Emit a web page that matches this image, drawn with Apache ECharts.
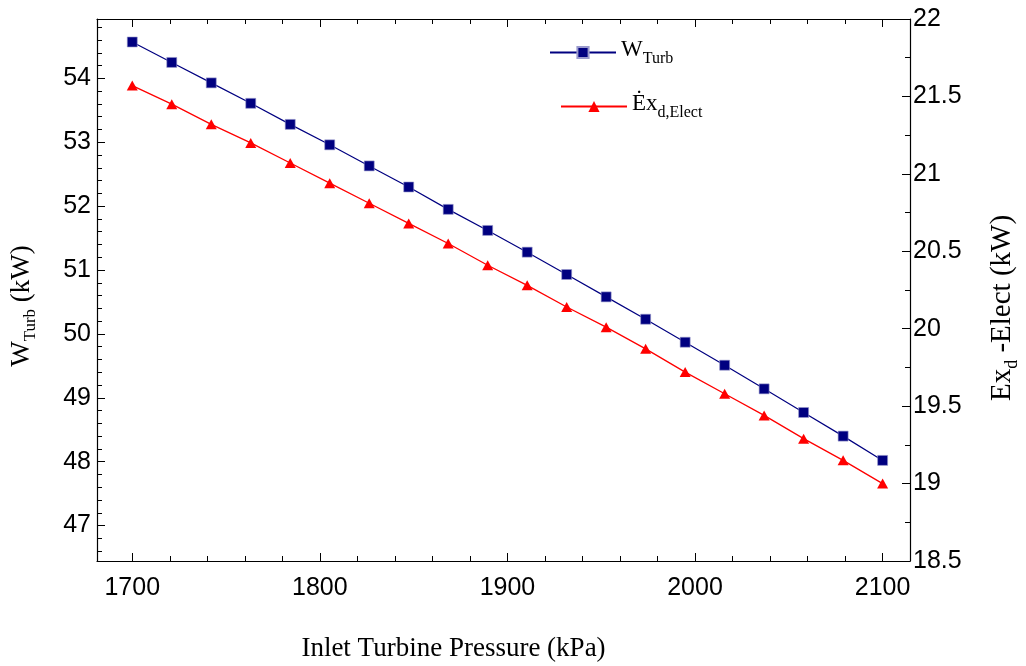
<!DOCTYPE html>
<html>
<head>
<meta charset="utf-8">
<script src="https://cdn.jsdelivr.net/npm/echarts@6/dist/echarts.min.js"></script>
<style>html,body{margin:0;padding:0;background:#fff}#c{width:1026px;height:666px}</style>
</head>
<body>
<div id="c"></div>
<script>
// ---- data ----
var pressure = [1700, 1721.05, 1742.11, 1763.16, 1784.21, 1805.26, 1826.32, 1847.37, 1868.42, 1889.47,
                1910.53, 1931.58, 1952.63, 1973.68, 1994.74, 2015.79, 2036.84, 2057.89, 2078.95, 2100];
var wTurb = [54.57, 54.25, 53.93, 53.61, 53.28, 52.96, 52.63, 52.30, 51.95, 51.62,
             51.28, 50.93, 50.58, 50.23, 49.87, 49.51, 49.14, 48.77, 48.40, 48.02];
var exElect = [21.57, 21.45, 21.32, 21.20, 21.07, 20.94, 20.81, 20.68, 20.55, 20.41,
               20.28, 20.14, 20.01, 19.87, 19.72, 19.58, 19.44, 19.29, 19.15, 19.00];
var xTicks = [1700, 1800, 1900, 2000, 2100];
var xMinorTicks = [1720, 1740, 1760, 1780, 1820, 1840, 1860, 1880, 1920, 1940, 1960, 1980, 2020, 2040, 2060, 2080];
var leftTicks = [47, 48, 49, 50, 51, 52, 53, 54];
var leftMinorTicks = [46.6, 46.8, 47.2, 47.4, 47.6, 47.8, 48.2, 48.4, 48.6, 48.8, 49.2, 49.4, 49.6, 49.8,
                      50.2, 50.4, 50.6, 50.8, 51.2, 51.4, 51.6, 51.8, 52.2, 52.4, 52.6, 52.8,
                      53.2, 53.4, 53.6, 53.8, 54.2, 54.4, 54.6, 54.8];

var XMIN = 1681.2, XMAX = 2114.6;
var LMIN = 46.445, LMAX = 54.93;
var RMIN = 18.5, RMAX = 22, RINT = 0.5;

var pairsW = pressure.map(function (p, i) { return [p, wTurb[i]]; });
var pairsE = pressure.map(function (p, i) { return [p, exElect[i]]; });

var black = '#000';
var sans = 'Liberation Sans';
var serif = 'Liberation Serif';
function plain(v) { return String(Math.round(v * 100) / 100); }
function nameRich(fs, ss, lh) {
  return {
    m: { fontFamily: serif, fontSize: fs, color: black, lineHeight: lh, verticalAlign: 'top' },
    s: { fontFamily: serif, fontSize: ss, color: black, lineHeight: lh, verticalAlign: 'bottom' }
  };
}
var legRich = nameRich(23, 16, 29);

function xAx(pos, major, showLine, showLabel, extra) {
  var a = {
    type: 'value', position: pos, min: XMIN, max: XMAX,
    axisLine: { show: showLine, lineStyle: { color: black, width: 1.2 } },
    axisTick: { show: true, inside: true, length: major ? 8 : 5, customValues: major ? xTicks : xMinorTicks,
                lineStyle: { color: black, width: 1 } },
    axisLabel: { show: showLabel, customValues: xTicks, formatter: plain, margin: 15, color: black, fontFamily: sans, fontSize: 25 },
    splitLine: { show: false }
  };
  if (extra) for (var k in extra) a[k] = extra[k];
  return a;
}

var option = {
  animation: false,
  backgroundColor: '#fff',
  grid: { left: 97, right: 116, top: 19, bottom: 105, outerBoundsMode: 'none' },
  legend: [
    {
      data: ['W'], left: 544, top: 33, padding: 5, itemWidth: 66, itemHeight: 14, itemGap: 0,
      formatter: function () { return '{m|W}{s|Turb}'; },
      textStyle: { rich: legRich }
    },
    {
      data: ['E'], left: 555, top: 87, padding: 5, itemWidth: 66, itemHeight: 14, itemGap: 0,
      formatter: function () { return '{m|\u0116x}{s|d,Elect}'; },
      textStyle: { rich: legRich }
    }
  ],
  xAxis: [
    xAx('bottom', true, true, true, {
      name: 'Inlet Turbine Pressure (kPa)', nameLocation: 'middle', nameGap: 74,
      nameTextStyle: { fontFamily: serif, fontSize: 27, color: black, padding: [0, 100, 0, 0] }
    }),
    xAx('bottom', false, false, false),
    xAx('top', true, true, false),
    xAx('top', false, false, false)
  ],
  yAxis: [
    {
      type: 'value', position: 'left', min: LMIN, max: LMAX,
      axisLine: { show: true, lineStyle: { color: black, width: 1.2 } },
      axisTick: { show: true, inside: true, length: 8, customValues: leftTicks, lineStyle: { color: black, width: 1 } },
      axisLabel: { customValues: leftTicks, formatter: plain, margin: 6, color: black, fontFamily: sans, fontSize: 25 },
      splitLine: { show: false },
      name: '{m|W}{s|Turb}{m| (kW)}', nameLocation: 'middle', nameRotate: 90, nameGap: 58,
      nameTextStyle: { rich: nameRich(27, 17, 31), padding: [0, 32, 0, 0] }
    },
    {
      type: 'value', position: 'right', min: RMIN, max: RMAX, interval: RINT,
      axisLine: { show: true, lineStyle: { color: black, width: 1.2 } },
      axisTick: { show: true, inside: true, length: 8, lineStyle: { color: black, width: 1 } },
      minorTick: { show: true, splitNumber: 2, length: 5, lineStyle: { color: black, width: 1 } },
      axisLabel: { formatter: plain, margin: 3, color: black, fontFamily: sans, fontSize: 25 },
      splitLine: { show: false },
      name: '{m|Ex}{s|d}{m| -Elect (kW)}', nameLocation: 'middle', nameRotate: 90, nameGap: 78,
      nameTextStyle: { rich: nameRich(29, 18, 33), padding: [0, 36, 0, 0] }
    },
    {
      type: 'value', position: 'left', min: LMIN, max: LMAX,
      axisLine: { show: false },
      axisTick: { show: true, inside: true, length: 5, customValues: leftMinorTicks, lineStyle: { color: black, width: 1 } },
      axisLabel: { show: false },
      splitLine: { show: false }
    }
  ],
  series: [
    {
      name: 'W', type: 'line', xAxisIndex: 0, yAxisIndex: 0, data: pairsW,
      symbol: 'rect', symbolSize: 10,
      lineStyle: { color: '#000080', width: 1.2 },
      itemStyle: { color: '#000080', borderColor: '#9a9acd', borderWidth: 0.6 }
    },
    {
      name: 'E', type: 'line', xAxisIndex: 0, yAxisIndex: 1, data: pairsE,
      symbol: 'triangle', symbolSize: [11, 10],
      lineStyle: { color: '#ff0000', width: 1.3 },
      itemStyle: { color: '#ff0000' }
    }
  ]
};
var chart = echarts.init(document.getElementById('c'), null, { renderer: 'canvas' });
chart.setOption(option);
</script>
</body>
</html>
